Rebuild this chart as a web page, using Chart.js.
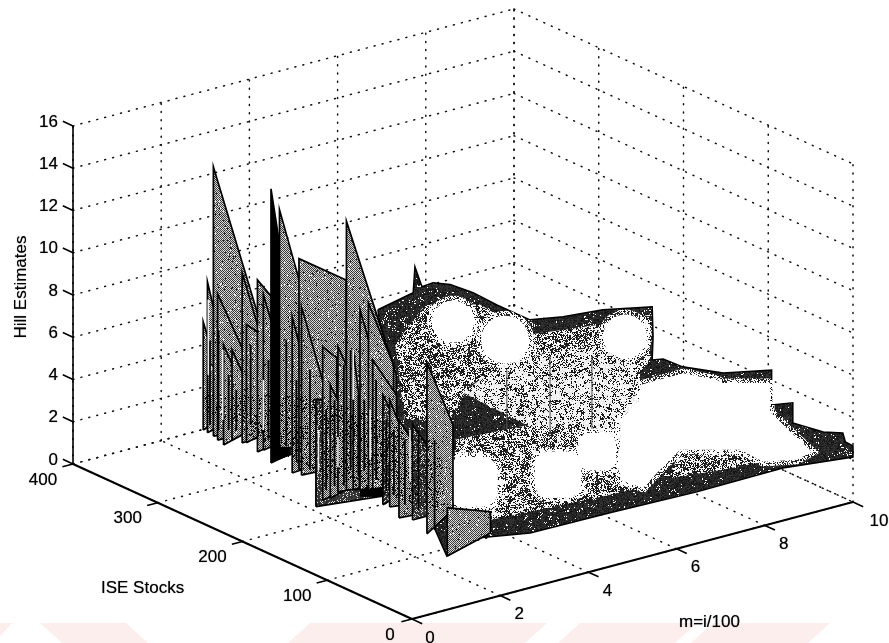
<!DOCTYPE html>
<html><head><meta charset="utf-8">
<style>html,body{margin:0;padding:0;background:#fff;overflow:hidden}canvas{display:block;filter:blur(.35px)}</style>
<script src="https://cdn.jsdelivr.net/npm/chart.js@4/dist/chart.umd.min.js"></script>
</head><body><canvas id="c" width="889" height="643"></canvas>
<script>
// ---- axis ticks
const mTicks=[0,2,4,6,8,10];
const stockTicks=[0,100,200,300,400];
const hillTicks=[0,2,4,6,8,10,12,14,16];
// ---- spikes of individual stocks near m = 0.8, back to front
const sheetStock=[288,283,276,271,264,254,242,237,224,217,208,198,183,175,172,155,147,138,129,119,111,103,93,88,76,68,57,41,24,0];
const sheetBase=[3.22,3.18,3.15,3.05,2.95,3.37,3.45,3.55,3.35,3.57,3.13,3.54,3.11,3.41,3.21,2.03,2.48,2.75,3.21,3.49,3.63,3.78,3.86,3.72,3.57,3.61,3.30,3.49,3.15,2.54];
const sheetPeak=[8.34,10.33,15.90,9.97,7.69,7.64,11.5,9.14,11.5,10.93,16.1,15.3,10.5,13.4,11.18,7.11,9.73,8.11,10.08,16.2,10.27,12.3,12.8,10.2,8.78,8.68,7.94,7.99,11.25,4.82];
const sheetFallM=[1.30,1.14,2.05,1.48,1.30,1.16,1.28,1.34,1.14,1.07,1.19,1.34,1.34,1.87,1.34,2.36,1.12,1.07,1.03,1.93,0.94,1.55,1.37,1.34,1.19,1.12,1.16,1.21,1.39,1.78];
const sheetFallHill=[4.61,7.15,6.54,6.46,5.04,5.79,7.83,8.12,10.46,8.87,10.65,10.97,5.80,11.8,6.94,6.23,9.04,6.77,8.86,8.30,7.82,6.45,9.56,8.25,6.91,6.84,6.56,6.58,7.99,4.09];
const sheetEndHill=[3.52,3.36,2.84,3.05,3.24,3.56,3.52,3.85,3.49,3.66,3.30,3.62,3.19,3.53,3.15,1.68,2.64,2.89,3.18,2.94,3.65,3.60,3.64,3.74,3.83,3.53,3.24,3.50,3.96,3.09];
const sheetStartM=0.8;
const blackSheetStocks=[208];
const darkSheetStocks=[155,76,41];
// ---- narrow stock slices in the dense part
const sliceStock=[280,270,258,249,232,211,190,178,162,143,133,122,114,105,98,84,72,63,50,34,15];
const sliceLow=[3.6,3.55,3.77,3.93,4.48,4.17,4.31,3.82,3.65,3.04,3.41,3.63,4.51,4.45,4.77,4.6,4.34,4.28,4.05,4.09,3.5];
const sliceHigh=[7.6,8.3,6.37,5.83,8.27,7.95,9.29,7.6,8.39,6.83,7.48,9.36,10.2,8.24,8.13,9.34,7.66,7.36,7.13,7.88,7.75];
const paleSliceStock=[282,265,217,152,129,111,91,44];
const paleSliceLow=[5.94,4.11,4.52,3.78,4.37,7.9,5.42,5.34];
const paleSliceHigh=[9.5,7.43,6.89,5.72,5.8,10.27,7.79,7.71];
// ---- crowded band of low values along m = 0.8
const denseStock=[286,173,85,8,2,55,155,286];
const denseHill=[4.93,6.99,7.66,7.65,4.5,4.2,3.6,4.2];
// ---- solid black low parts
const blackA_M=[0.8,1.33,1.33,0.8], blackA_Stock=103, blackA_Hill=[3.78,3.63,3.16,3.45];
const blackB_M=[0.8,1.25,1.25,0.8], blackB_Stock=208, blackB_Hill=[3.89,3.64,3.26,3.13];
// ---- surface silhouette
const edgeM=[3.07,3.87,3.91,4.07,4.32,4.71,5.23,5.77,6.52,7.27,8.17,9.29,9.31,9.29,10,10,10,10,10,10,10,10,10,10,10,10,8.41,6.46,4.49,2.68,1.54,0.79,0.8];
const edgeStock=[200,200,200,200,200,200,200,200,200,200,200,200,200,200,224,201,153,96,96,71,71,35,12,9,0,0,0,0,0,0,0,0,61];
const edgeHill=[9.27,9.63,10.84,9.8,9.85,9.55,8.88,8.0,6.88,6.61,6.44,5.96,4.53,3.45,2.66,2.71,3.30,4.49,2.83,3.39,2.44,2.67,3.05,2.68,2.65,2.13,2.49,2.44,2.54,2.59,2.99,2.54,6.9];
// ---- bright part of the surface (stock 0 frame)
const brightM=[5.17,6.15,6.92,7.05,8.12,8.12,8.53,9.07,8.73,7.96,7.44,6.08,5.56,5.24,4.72,4.72,5.17];
const brightHill=[8.21,8.23,7.48,7.26,6.67,5.31,4.23,2.89,2.70,3.03,3.89,4.64,3.84,3.30,3.97,6.82,7.51];
// ---- mottled fringe under the bright part (stock 0 frame)
const fringeM=[6.08,7.44,7.96,6.98,5.83];
const fringeHill=[4.64,3.89,3.03,3.18,3.43];
// ---- central grey plateau (stock 0 frame)
const plateauM=[2.0,3.06,4.2,5.17,5.17,4.72,4.72,3.74,2.68,1.16,1.54];
const plateauHill=[10.83,10.91,10.52,9.08,6.89,6.96,5.87,7.02,7.62,10.07,10.47];
const plateauRibM=[2.15,3.13,4.08];
const plateauRibLow=[7.8,7.0,6.7];
const plateauRibHigh=[10.6,10.7,10.2];
// ---- mottled regions (stock 100 frame)
const upperM=[1.54,2.22,3.46,4.6,6.18,7.32,7.32,7.09,3.92,3.24,2.78,1.76];
const upperHill=[10.3,11.82,11.13,9.08,8.67,8.52,6.29,5.94,7.8,7.46,6.05,6.62];
const lowerM=[2.9,4.6,7.09,7.09,6.18,3.69,2.9];
const lowerHill=[5.04,4.81,3.9,0.44,0.52,0.81,1.35];
// ---- bright patches (stock 0 frame)
const roundM=[0.93,2.11,4.83];
const roundHill=[13.56,12.05,10.69];
const squareM=[1.38,3.31,4.2,5.06];
const squareHill=[5.73,5.00,5.59,4.70];
const axisStockMax=400, axisMMax=10, axisHillMax=16;

// view of the 3-D box
function project(m,s,z){return {x:412+44.1*m-0.8475*s,y:619-11.7*m-0.3875*s-21.13*z};}

// scanned halftone textures
function hash(x,y){let n=(Math.imul(x,374761393)+Math.imul(y,668265263))|0;n=Math.imul(n^(n>>>13),1274126177);return ((n^(n>>>16))>>>0)/4294967296;}
const makePattern=c=>document.createElement('canvas').getContext('2d').createPattern(c,'repeat');
function texture(level,ordered){
  const c=document.createElement('canvas');c.width=c.height=128;const g=c.getContext('2d');const d=g.createImageData(128,128);
  for(let y=0;y<128;y++)for(let x=0;x<128;x++){
    const i=(x+y*128)*4;const r=hash(x,y);const r2=hash(x>>2,(y>>2)+91);
    const t=ordered?(((x+y)%2===0?0.3:0.7)*0.7+r*0.3):(r*0.62+r2*0.38);
    const on=t<level;
    const v=ordered?(on?(35+r*45):(195+r*40)):(on?(15+r*45):(225+r*30));
    d.data[i]=d.data[i+1]=d.data[i+2]=v;d.data[i+3]=255;
  }
  g.putImageData(d,0,0);return makePattern(c);
}
function speckle(cover,shade){
  const c=document.createElement('canvas');c.width=c.height=96;const g=c.getContext('2d');const d=g.createImageData(96,96);
  for(let y=0;y<96;y++)for(let x=0;x<96;x++){const i=(x+y*96)*4;const on=hash(x+7,y+3)<cover;d.data[i]=d.data[i+1]=d.data[i+2]=shade;d.data[i+3]=on?255:0;}
  g.putImageData(d,0,0);return makePattern(c);
}
const texGrey=texture(0.5,true), texDark=texture(0.68,true), texBase=texture(0.86,false);
const texMid=texture(0.5,false), texLight=texture(0.36,false), texWhiteEdge=speckle(0.55,255), texBlackOver=speckle(0.16,0);

const layers=[];
function poly(ms,ss,zs,opt){
  const pts=ms.map((m,i)=>project(m,Array.isArray(ss)?ss[i]:ss,zs[i]));pts.push(pts[0]);
  layers.push(Object.assign({type:'line',data:pts,fill:'shape',pointRadius:0,tension:0,borderWidth:0,borderColor:'rgba(0,0,0,0)',clip:false},opt));
}
function seg(a,b,opt){
  layers.push(Object.assign({type:'line',data:[project(...a),project(...b)],fill:false,pointRadius:0,tension:0,borderColor:'#000',borderWidth:1.3,clip:false},opt));
}
const dotted={borderColor:'#111',borderWidth:1.5,borderDash:[1,7.2],borderCapStyle:'round'};
// grid on the two walls and the floor
hillTicks.forEach(z=>{seg([0,axisStockMax,z],[axisMMax,axisStockMax,z],dotted);seg([axisMMax,axisStockMax,z],[axisMMax,0,z],dotted);});
mTicks.forEach(m=>{seg([m,axisStockMax,0],[m,axisStockMax,axisHillMax],dotted);seg([m,0,0],[m,axisStockMax,0],dotted);});
stockTicks.forEach(s=>{seg([axisMMax,s,0],[axisMMax,s,axisHillMax],dotted);seg([0,s,0],[axisMMax,s,0],dotted);});
// surface
poly(edgeM,edgeStock,edgeHill,{backgroundColor:texBase,borderColor:'#000',borderWidth:1.5});
poly(upperM,100,upperHill,{backgroundColor:texMid});
poly(lowerM,100,lowerHill,{backgroundColor:texMid});
// bright patches
function patches(ms,zs,style,radii){
  const pts=ms.map((m,i)=>project(m,0,zs[i]));
  layers.push({type:'scatter',data:pts.slice(),showLine:false,pointStyle:style,pointRadius:radii.map(r=>r+5),backgroundColor:texWhiteEdge,borderWidth:0,clip:false});
  layers.push({type:'scatter',data:pts.slice(),showLine:false,pointStyle:style,pointRadius:radii,backgroundColor:'#fff',borderWidth:0,clip:false});
}
patches(roundM,roundHill,'circle',[21,24,22]);
poly(plateauM,0,plateauHill,{backgroundColor:texLight});
plateauRibM.forEach((m,i)=>seg([m,0,plateauRibLow[i]],[m,0,plateauRibHigh[i]],{borderColor:'#555',borderWidth:1}));
patches(squareM,squareHill,'rectRounded',[29,27,22,20]);
poly(fringeM,0,fringeHill,{backgroundColor:texMid});
poly(brightM,0,brightHill,{backgroundColor:'#fff',borderColor:texWhiteEdge,borderWidth:9});
// spikes
sheetStock.forEach((s,i)=>{
  const fillTex=blackSheetStocks.includes(s)?'#000':darkSheetStocks.includes(s)?texDark:texGrey;
  poly([sheetStartM,sheetStartM,sheetFallM[i],sheetFallM[i]],s,[sheetBase[i],sheetPeak[i],sheetFallHill[i],sheetEndHill[i]],{backgroundColor:fillTex,borderColor:'#000',borderWidth:1.7,borderJoinStyle:'miter'});
});
poly(denseStock.map(()=>sheetStartM),denseStock,denseHill,{backgroundColor:texBlackOver});
sliceStock.forEach((s,i)=>seg([sheetStartM,s,sliceLow[i]],[sheetStartM,s,sliceHigh[i]],{borderWidth:1.8}));
paleSliceStock.forEach((s,i)=>seg([sheetStartM,s,paleSliceLow[i]],[sheetStartM,s,paleSliceHigh[i]],{borderColor:'#eee',borderWidth:1.6}));
poly(blackA_M,blackA_Stock,blackA_Hill,{backgroundColor:'#000'});
poly(blackB_M,blackB_Stock,blackB_Hill,{backgroundColor:'#000'});
// axes
const axisStyle={borderColor:'#000',borderWidth:2};
seg([0,axisStockMax,0],[0,axisStockMax,axisHillMax],{borderColor:'#000',borderWidth:1.6});
seg([0,axisStockMax,0],[0,0,0],axisStyle);
seg([0,0,0],[axisMMax,0,0],axisStyle);
const tickStyle={borderColor:'#000',borderWidth:1.6};
hillTicks.forEach(z=>seg([0,axisStockMax,z],[0,axisStockMax+12,z],tickStyle));
stockTicks.forEach(s=>seg([0,s,0],[-0.24,s,0],tickStyle));
mTicks.forEach(m=>seg([m,0,0],[m,-12,0],tickStyle));

const textPlugin={id:'boxText',
  beforeDraw(chart){
    const g=chart.ctx;g.save();g.fillStyle='#fdeeee';
    [[0,-20,12,-6],[40,62,126,148],[310,288,547,525],[580,558,697,675],[713,691,830,808]].forEach(b=>{
      g.beginPath();g.moveTo(b[0],623);g.lineTo(b[2],623);g.lineTo(b[3],643);g.lineTo(b[1],643);g.closePath();g.fill();});
    g.restore();
  },
  afterDatasetsDraw(chart){
    const g=chart.ctx;const sx=chart.scales.x,sy=chart.scales.y;
    const P=(m,s,z)=>{const p=project(m,s,z);return [sx.getPixelForValue(p.x),sy.getPixelForValue(p.y)];};
    g.save();g.fillStyle='#000';g.shadowColor='rgba(0,0,0,.6)';g.shadowBlur=1;g.font='17px "Liberation Sans"';g.textBaseline='middle';
    g.textAlign='right';hillTicks.forEach(z=>{const p=P(0,axisStockMax,z);g.fillText(String(z),p[0]-15,p[1]-4);});
    g.textAlign='center';
    stockTicks.forEach(s=>{const p=P(0,s,0);g.fillText(String(s),p[0]-(s===0?22:30),p[1]+16);});
    mTicks.forEach(m=>{const p=P(m,0,0);g.fillText(String(m),p[0]+(m===0?18:m===10?26:19),p[1]+19);});
    g.textAlign='left';
    g.fillText('ISE Stocks',101,588);
    g.fillText('m=i/100',679,622);
    g.translate(21,287);g.rotate(-Math.PI/2);g.textAlign='center';g.fillText('Hill Estimates',0,0);
    g.restore();
  }};

new Chart(document.getElementById('c'),{
  type:'line',
  data:{datasets:layers.slice().reverse()},
  options:{responsive:false,animation:false,devicePixelRatio:1,
    layout:{padding:0,autoPadding:false},
    parsing:true,
    scales:{x:{type:'linear',display:false,min:0,max:889},y:{type:'linear',display:false,min:0,max:643,reverse:true}},
    plugins:{legend:{display:false},tooltip:{enabled:false}},
    events:[]},
  plugins:[textPlugin]
});
</script></body></html>
